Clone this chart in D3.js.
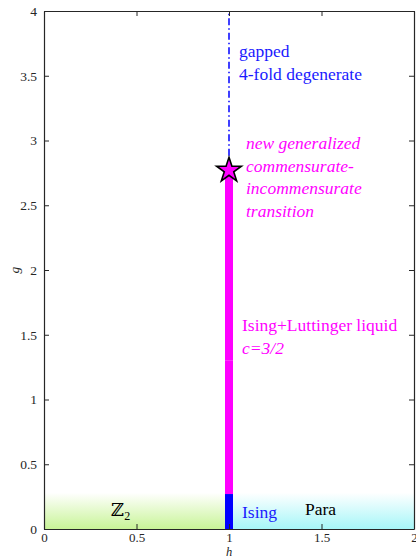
<!DOCTYPE html>
<html>
<head>
<meta charset="utf-8">
<script src="https://cdn.jsdelivr.net/npm/d3@7"></script>
<style>
  body { margin: 0; background: #fff; }
</style>
</head>
<body>
<svg id="chart" width="416" height="560"></svg>
<script>
// phase boundary at h = 1, segments along g
const hLine = 1;
const isingSeg = [0, 0.27];           // blue, Ising transition
const luttingerSegs = [[0.27, 1.3], [1.3, 2.77]];  // magenta, thick
const gappedSeg = [2.77, 4];          // dash-dot
const starPoint = { h: 1, g: 2.77 };

// shaded regions near g = 0
const regions = [
  { name: 'z2', h0: 0, h1: 1, gTop: 0.28, color: '#c8f497' },
  { name: 'para', h0: 1, h1: 2, gTop: 0.28, color: '#a6f6f8' }
];

const xTicks = [0, 0.5, 1, 1.5, 2];
const yTicks = [0, 0.5, 1, 1.5, 2, 2.5, 3, 3.5, 4];

const FONT = "'Liberation Serif', 'Times New Roman', 'DejaVu Serif', serif";

const svg = d3.select('#chart').attr('font-family', FONT);
const margin = { top: 11, right: 2, bottom: 31, left: 44 };
const W = 416, H = 560;

const x = d3.scaleLinear([0, 2], [margin.left, W - margin.right]);
const y = d3.scaleLinear([0, 4], [H - margin.bottom, margin.top]);

// gradients
const defs = svg.append('defs');
regions.forEach(r => {
  const grad = defs.append('linearGradient')
    .attr('id', 'grad-' + r.name)
    .attr('x1', 0).attr('y1', 1).attr('x2', 0).attr('y2', 0);
  grad.append('stop').attr('offset', 0).attr('stop-color', r.color);
  grad.append('stop').attr('offset', 1).attr('stop-color', '#ffffff');
});

svg.append('g')
  .selectAll('rect')
  .data(regions)
  .join('rect')
    .attr('x', d => x(d.h0))
    .attr('y', d => y(d.gTop))
    .attr('width', d => x(d.h1) - x(d.h0))
    .attr('height', d => y(0) - y(d.gTop))
    .attr('fill', d => `url(#grad-${d.name})`);

// dash-dot gapped line
svg.append('line')
  .attr('x1', x(hLine)).attr('x2', x(hLine))
  .attr('y1', y(gappedSeg[0])).attr('y2', y(gappedSeg[1]))
  .attr('stroke', '#0000ff')
  .attr('stroke-width', 1.5)
  .attr('stroke-dasharray', '7,3,1.5,3');

// thick magenta line
svg.append('g')
  .selectAll('line')
  .data(luttingerSegs)
  .join('line')
    .attr('x1', x(hLine)).attr('x2', x(hLine))
    .attr('y1', d => y(d[0])).attr('y2', d => y(d[1]))
    .attr('stroke', '#ff00ff')
    .attr('stroke-width', 8);

// blue Ising segment
svg.append('line')
  .attr('x1', x(hLine)).attr('x2', x(hLine))
  .attr('y1', y(isingSeg[0])).attr('y2', y(isingSeg[1]))
  .attr('stroke', '#0000ff')
  .attr('stroke-width', 8);

// star marker
svg.append('path')
  .attr('d', d3.symbol(d3.symbolStar, 190)())
  .attr('transform', `translate(${x(starPoint.h)},${y(starPoint.g)})`)
  .attr('fill', '#ff00ff')
  .attr('stroke', '#000')
  .attr('stroke-width', 1.6)
  .attr('stroke-linejoin', 'miter');

// axes (box with inward ticks)
const axisColor = '#262626';
const tick = 5;
const axes = svg.append('g').attr('color', axisColor);

axes.append('g')
  .attr('transform', `translate(0,${y(0)})`)
  .call(d3.axisBottom(x).tickValues(xTicks).tickSizeInner(-tick).tickSizeOuter(0).tickPadding(4).tickFormat(d3.format('')))
  .call(g => g.attr('font-family', FONT).attr('font-size', 13));
axes.append('g')
  .attr('transform', `translate(0,${y(4)})`)
  .call(d3.axisTop(x).tickValues(xTicks).tickSizeInner(-tick).tickSizeOuter(0).tickFormat(''));
axes.append('g')
  .attr('transform', `translate(${x(0)},0)`)
  .call(d3.axisLeft(y).tickValues(yTicks).tickSizeInner(-tick).tickSizeOuter(0).tickPadding(7).tickFormat(d3.format('')))
  .call(g => g.attr('font-family', FONT).attr('font-size', 13.5));
axes.append('g')
  .attr('transform', `translate(${x(2)},0)`)
  .call(d3.axisRight(y).tickValues(yTicks).tickSizeInner(-tick).tickSizeOuter(0).tickFormat(''));
axes.selectAll('.domain').attr('stroke-width', 1.2);

// axis labels
svg.append('text')
  .attr('x', x(1)).attr('y', 556)
  .attr('text-anchor', 'middle')
  .attr('font-style', 'italic')
  .attr('font-size', 12.5)
  .attr('fill', axisColor)
  .text('h');
svg.append('text')
  .attr('transform', `translate(19,${y(2)}) rotate(-90)`)
  .attr('text-anchor', 'middle')
  .attr('font-style', 'italic')
  .attr('font-size', 13.5)
  .attr('fill', axisColor)
  .text('g');

// annotations
const notes = [
  { lines: ['gapped', '4-fold degenerate'], x: 239, y: 57, color: '#1a1aff', italic: false },
  { lines: ['new generalized', 'commensurate-', 'incommensurate', 'transition'], x: 246, y: 149, color: '#ff00ff', italic: true },
  { lines: ['Ising+Luttinger liquid'], x: 242, y: 331, color: '#ff00ff', italic: false },
  { lines: ['c=3/2'], x: 242, y: 354, color: '#ff00ff', italic: true },
  { lines: ['Ising'], x: 242, y: 518, color: '#1a1aff', italic: false },
  { lines: ['Para'], x: 305, y: 515, color: '#000', italic: false }
];
notes.forEach(n => {
  const t = svg.append('text')
    .attr('x', n.x).attr('y', n.y)
    .attr('fill', n.color)
    .attr('font-size', 17.5)
    .attr('font-style', n.italic ? 'italic' : 'normal');
  n.lines.forEach((s, i) => {
    t.append('tspan').attr('x', n.x).attr('dy', i ? 22.5 : 0).text(s);
  });
});

// Z2 label
const z = svg.append('text')
  .attr('x', 111).attr('y', 516)
  .attr('fill', '#000')
  .attr('font-size', 18);
z.append('tspan').attr('font-family', 'DejaVu Serif').text('ℤ');
z.append('tspan').attr('font-size', 12).attr('dy', 4).text('2');
</script>
</body>
</html>
